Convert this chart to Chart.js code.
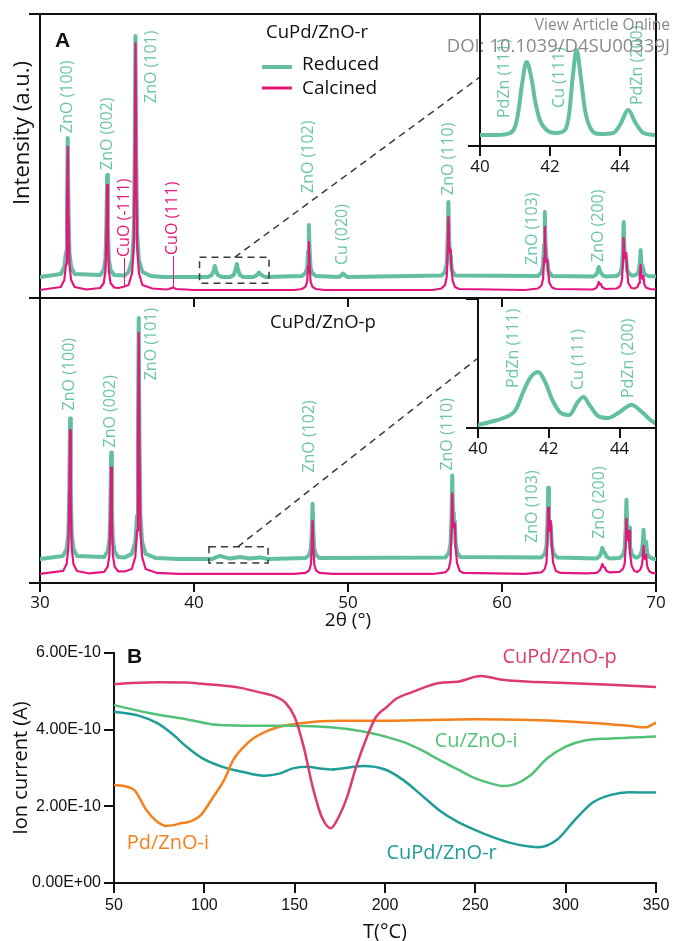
<!DOCTYPE html>
<html>
<head>
<meta charset="utf-8">
<title>CuPd/ZnO XRD and H2-TPR</title>
<script src="https://cdn.jsdelivr.net/npm/chart.js@4.4.1/dist/chart.umd.min.js"></script>
<style>
  html, body { margin: 0; padding: 0; background: #fff; overflow: hidden; }
  #fig { position: relative; width: 673px; height: 941px; overflow: hidden; }
  #fig canvas { position: absolute; }
  .wm { position: absolute; right: 3px; color: #8a8a8a; font-family: "Open Sans", sans-serif; white-space: nowrap; line-height: 1; }
</style>
</head>
<body>
<div id="fig">
  <canvas id="xrdTop" width="673" height="312" style="left:0;top:0"></canvas>
  <canvas id="xrdBottom" width="673" height="350" style="left:0;top:290px"></canvas>
  <canvas id="tpr" width="673" height="319" style="left:0;top:625px"></canvas>
  <canvas id="insetTop" width="233" height="190" style="left:440px;top:0"></canvas>
  <canvas id="insetBottom" width="235" height="190" style="left:438px;top:290px"></canvas>
  <div class="wm" style="top:17px;font-size:15.5px">View Article Online</div>
  <div class="wm" style="top:36px;font-size:18.5px">DOI: 10.1039/D4SU00339J</div>
</div>
<script>
// ---- panel A : XRD, 2theta (deg) vs intensity (a.u.) ----
const xrdTicks = [30, 40, 50, 60, 70];
const insetTicks = [40, 42, 44];

// CuPd/ZnO-r
const topReduced = [
  [30, 21],
  [31.35, 24], [31.58, 31], [31.69, 46], [31.75, 90], [31.8, 160], [31.85, 90], [31.91, 46], [32.02, 31], [32.25, 24],
  [33.91, 23], [34.14, 28], [34.25, 39], [34.31, 72], [34.36, 123], [34.41, 72], [34.47, 39], [34.58, 28], [34.81, 23],
  [35.5, 22.5],
  [35.75, 26], [35.98, 38], [36.09, 64], [36.15, 141], [36.2, 262], [36.25, 141], [36.31, 64], [36.42, 38], [36.65, 26],
  [37.2, 22], [38, 21],
  [40.9, 21], [41.15, 23], [41.27, 27], [41.35, 32], [41.43, 27], [41.55, 23], [41.8, 21],
  [42.35, 21], [42.58, 23], [42.7, 28], [42.78, 34], [42.86, 28], [42.98, 23], [43.2, 21],
  [43.85, 21], [44.05, 22.5], [44.15, 24], [44.22, 25.5], [44.3, 24], [44.42, 22.5], [44.65, 21],
  [47.01, 22], [47.24, 25], [47.35, 30], [47.41, 47], [47.46, 73], [47.51, 47], [47.57, 30], [47.68, 25], [47.91, 22],
  [49.4, 21], [49.55, 22.5], [49.68, 24.5], [49.81, 22.5], [49.96, 21],
  [56.07, 22.5], [56.3, 26], [56.41, 34.5], [56.47, 58], [56.52, 96], [56.57, 58], [56.63, 42], [56.68, 38], [56.74, 28], [56.97, 22.5],
  [62.33, 22], [62.56, 25.5], [62.67, 33], [62.73, 53], [62.78, 86], [62.83, 53], [62.89, 40], [62.95, 36], [63.01, 27], [63.25, 22],
  [65.9, 21.5], [66.1, 23], [66.2, 26], [66.28, 31], [66.36, 27], [66.44, 25], [66.55, 22.5], [66.75, 21.5],
  [67.45, 22], [67.68, 25], [67.79, 31], [67.85, 48], [67.9, 76], [67.95, 48], [68.01, 42], [68.07, 38], [68.13, 27], [68.4, 22.5],
  [68.6, 22.5], [68.8, 24], [68.89, 28], [68.95, 35], [69.0, 48], [69.05, 35], [69.11, 32], [69.17, 29], [69.25, 24], [69.5, 22], [70, 21.5]
];
const topCalcined = [
  [30, 8],
  [31.35, 11], [31.58, 18], [31.69, 34], [31.75, 80], [31.8, 151], [31.85, 80], [31.91, 34], [32.02, 18], [32.25, 11],
  [33, 8.5],
  [33.91, 10], [34.14, 15], [34.25, 27], [34.31, 60], [34.36, 113], [34.41, 60], [34.47, 27], [34.58, 15], [34.81, 10.5],
  [35.1, 10], [35.48, 11.5], [35.75, 13],
  [35.98, 25], [36.09, 52], [36.15, 131], [36.2, 255], [36.25, 131], [36.31, 52], [36.42, 25], [36.65, 13],
  [37.3, 9.5], [38.2, 8.5], [38.4, 9], [38.62, 10.5], [38.85, 9], [40, 8], [46.5, 8],
  [47.01, 9], [47.24, 11.4], [47.35, 16.6], [47.41, 32], [47.46, 56], [47.51, 32], [47.57, 16.6], [47.68, 11.4], [47.91, 9],
  [48.5, 8], [55.5, 8],
  [56.07, 9.5], [56.3, 13], [56.41, 21], [56.47, 44.5], [56.52, 81], [56.57, 50], [56.62, 46], [56.67, 48], [56.72, 30], [56.8, 17], [56.95, 11], [57.2, 9],
  [61.5, 8],
  [62.33, 9.5], [62.56, 12.5], [62.67, 19], [62.73, 40], [62.78, 71], [62.83, 42], [62.88, 36], [62.95, 38], [63.0, 25], [63.08, 15], [63.25, 10.5], [63.5, 9],
  [65.9, 8.5], [66.12, 10], [66.22, 13], [66.28, 16], [66.34, 13.5], [66.42, 14], [66.5, 11], [66.7, 9],
  [67.45, 9.5], [67.68, 12], [67.79, 18], [67.85, 34], [67.9, 60], [67.95, 42], [68.0, 40], [68.07, 45], [68.12, 28], [68.2, 15], [68.4, 10],
  [68.6, 9.5], [68.8, 11], [68.9, 15], [68.95, 22], [69.0, 33], [69.05, 22], [69.12, 19], [69.18, 22], [69.24, 14], [69.35, 10.5], [69.6, 9], [70, 8.5]
];

// CuPd/ZnO-p
const bottomReduced = [
  [30, 24],
  [31.5, 27], [31.73, 34], [31.84, 49], [31.9, 94], [31.95, 164], [32.0, 94], [32.06, 49], [32.17, 34], [32.4, 27],
  [34.17, 26], [34.4, 31.5], [34.51, 43], [34.57, 77], [34.62, 130], [34.67, 77], [34.73, 43], [34.84, 31.5], [35.07, 26],
  [35.5, 25.5],
  [35.96, 29], [36.19, 41], [36.3, 67], [36.36, 144], [36.41, 264], [36.46, 144], [36.52, 67], [36.63, 41], [36.86, 29],
  [37.5, 25], [39, 24],
  [41.2, 24], [41.5, 26], [41.7, 27], [41.9, 26], [42.3, 24.5], [43.0, 26], [43.6, 24.5], [44.3, 25.5], [44.8, 24],
  [47.25, 25], [47.48, 28], [47.59, 34], [47.65, 51.5], [47.7, 79], [47.75, 51.5], [47.81, 34], [47.92, 28], [48.15, 25],
  [56.32, 25.5], [56.55, 30], [56.66, 39], [56.72, 65.5], [56.77, 107], [56.82, 70], [56.87, 60], [56.93, 62], [56.99, 40], [57.1, 30], [57.3, 26],
  [62.55, 25.5], [62.78, 29], [62.89, 37], [62.95, 59.5], [63.0, 95], [63.05, 62], [63.1, 55], [63.17, 58], [63.23, 38], [63.35, 29], [63.6, 25.5],
  [66.15, 24.5], [66.35, 27], [66.45, 31], [66.52, 35], [66.6, 31], [66.68, 30], [66.78, 26.5], [67.0, 24.5],
  [67.63, 25], [67.86, 28], [67.97, 35], [68.03, 54], [68.08, 83], [68.13, 56], [68.18, 50], [68.25, 55], [68.31, 36], [68.45, 28], [68.65, 25.5],
  [68.8, 25.5], [68.99, 28], [69.09, 33], [69.14, 40], [69.19, 53], [69.24, 40], [69.3, 37], [69.36, 41], [69.42, 30], [69.55, 26], [69.75, 24.5], [70, 24]
];
const bottomCalcined = [
  [30, 9],
  [31.5, 12], [31.73, 19], [31.84, 35], [31.9, 80.5], [31.95, 152], [32.0, 80.5], [32.06, 35], [32.17, 19], [32.4, 12],
  [33.2, 9.5],
  [34.17, 11], [34.4, 16.5], [34.51, 28], [34.57, 62], [34.62, 115], [34.67, 62], [34.73, 28], [34.84, 16.5], [35.07, 11.5],
  [35.5, 11.5],
  [35.96, 14], [36.19, 26], [36.3, 52], [36.36, 129], [36.41, 249], [36.46, 129], [36.52, 52], [36.63, 26], [36.86, 14],
  [37.6, 10], [39, 9], [46.5, 9],
  [47.25, 10], [47.48, 12.7], [47.59, 18.5], [47.65, 35.5], [47.7, 62], [47.75, 35.5], [47.81, 18.5], [47.92, 12.7], [48.15, 10],
  [49, 9], [55.5, 9],
  [56.32, 10.5], [56.55, 14.5], [56.66, 23], [56.72, 49], [56.77, 89], [56.82, 60], [56.87, 55], [56.94, 59], [56.99, 35], [57.08, 20], [57.25, 12], [57.5, 10],
  [61.5, 9],
  [62.55, 10.5], [62.78, 14], [62.89, 21], [62.95, 42], [63.0, 75], [63.05, 55], [63.1, 52], [63.17, 62], [63.23, 38], [63.32, 20], [63.5, 12], [63.8, 10],
  [65.5, 9.5],
  [66.15, 10], [66.35, 12.5], [66.45, 16], [66.52, 19], [66.6, 16], [66.68, 15.5], [66.78, 12], [67.0, 10.5],
  [67.63, 11], [67.86, 14], [67.97, 20], [68.03, 37], [68.08, 64], [68.13, 45], [68.18, 43], [68.25, 52], [68.31, 30], [68.42, 17], [68.6, 12],
  [68.8, 11], [68.99, 13.5], [69.09, 18], [69.14, 25], [69.19, 37], [69.24, 26], [69.3, 24], [69.36, 28], [69.42, 17], [69.55, 12], [69.75, 10], [70, 9.5]
];

// zoomed 40-45 deg region (reduced samples)
const insetTopReduced = [
  [40, 11], [40.48, 11], [40.86, 13], [41.0, 19], [41.09, 33], [41.19, 59], [41.33, 84], [41.48, 66], [41.57, 46],
  [41.71, 26], [41.9, 16], [42.19, 13], [42.43, 16], [42.55, 33], [42.65, 69], [42.76, 96], [42.88, 69], [43.0, 36],
  [43.14, 19], [43.43, 12], [43.81, 13], [44.0, 21], [44.24, 36], [44.43, 24], [44.67, 13], [45, 11]
];
const insetBottomReduced = [
  [40, 3], [40.34, 6], [40.72, 10], [41.06, 18], [41.3, 38], [41.49, 51], [41.7, 56], [41.91, 45], [42.1, 28],
  [42.34, 15], [42.58, 13], [42.82, 26], [42.98, 31], [43.15, 23], [43.39, 12], [43.68, 10], [43.96, 15],
  [44.34, 23], [44.63, 16], [44.87, 8], [45, 5]
];

// peak labels: text, 2theta, intensity where the label starts, colour key
const topPeakLabels = [
  ['ZnO (100)', 31.8, 165, 'g'], ['ZnO (002)', 34.36, 128, 'g'], ['CuO (-111)', 35.48, 41, 'p'],
  ['ZnO (101)', 37.25, 195, 'g'], ['CuO (111)', 38.62, 43, 'p'], ['ZnO (102)', 47.46, 105, 'g'],
  ['Cu (020)', 49.67, 33, 'g'], ['ZnO (110)', 56.5, 103, 'g'], ['ZnO (103)', 61.97, 33, 'g'],
  ['ZnO (200)', 66.26, 36, 'g']
];
const bottomPeakLabels = [
  ['ZnO (100)', 31.9, 172, 'g'], ['ZnO (002)', 34.57, 135, 'g'], ['ZnO (101)', 37.24, 202, 'g'],
  ['ZnO (102)', 47.52, 110, 'g'], ['ZnO (110)', 56.43, 112, 'g'], ['ZnO (103)', 61.97, 40, 'g'],
  ['ZnO (200)', 66.32, 44, 'g']
];
const insetTopLabels = [['PdZn (111)', 40.71, 28, 'g'], ['Cu (111)', 42.26, 38, 'g'], ['PdZn (200)', 44.49, 41, 'g']];
const insetBottomLabels = [['PdZn (111)', 41.0, 40, 'g'], ['Cu (111)', 42.83, 38, 'g'], ['PdZn (200)', 44.26, 30, 'g']];

// ---- panel B : ion current (x1e-10 A) vs T (degC) ----
const tprTicksX = [50, 100, 150, 200, 250, 300, 350];
const tprTicksY = [0, 2, 4, 6];
const pTemp = [50, 60, 75, 90, 100, 110, 120, 130, 140, 145, 150, 155, 160, 165, 170, 173, 179, 184, 190, 195, 201, 206, 215, 230, 240, 253, 265, 280, 300, 325, 350];
const pCurrent = [5.19, 5.22, 5.24, 5.23, 5.19, 5.15, 5.09, 4.98, 4.85, 4.7, 4.33, 3.55, 2.5, 1.72, 1.43, 1.6, 2.24, 3.03, 3.81, 4.33, 4.59, 4.8, 4.98, 5.22, 5.25, 5.4, 5.3, 5.25, 5.22, 5.17, 5.11];
const rTemp = [50, 64, 74, 83, 90, 99, 110, 121, 133, 142, 149, 157, 164, 170, 188, 200, 210, 220, 230, 240, 250, 260, 270, 280, 285, 295, 305, 315, 325, 335, 350];
const rCurrent = [4.47, 4.36, 4.17, 3.86, 3.56, 3.25, 3.03, 2.9, 2.8, 2.86, 2.99, 3.03, 2.99, 2.96, 3.05, 2.96, 2.69, 2.3, 1.9, 1.6, 1.38, 1.19, 1.04, 0.95, 0.93, 1.12, 1.64, 2.1, 2.3, 2.37, 2.36];
const cuTemp = [50, 70, 90, 108, 130, 150, 170, 188, 200, 210, 220, 230, 240, 250, 260, 265, 272, 280, 290, 300, 310, 325, 350];
const cuCurrent = [4.64, 4.43, 4.27, 4.12, 4.1, 4.1, 4.06, 3.95, 3.82, 3.68, 3.47, 3.21, 2.97, 2.73, 2.58, 2.53, 2.58, 2.79, 3.26, 3.56, 3.71, 3.77, 3.82];
const pdTemp = [50, 61, 68, 74, 79, 83, 87, 92, 98, 105, 111, 116, 122, 127, 134, 144, 153, 175, 200, 250, 280, 317, 335, 344, 350];
const pdCurrent = [2.56, 2.43, 1.9, 1.6, 1.49, 1.51, 1.56, 1.6, 1.77, 2.25, 2.69, 3.21, 3.56, 3.77, 3.95, 4.1, 4.17, 4.23, 4.23, 4.27, 4.25, 4.17, 4.1, 4.06, 4.18];

const INK = '#111';
const GREEN = '#62bf9f';
const GREEN_TEXT = '#6cc5a7';
const PINK = '#e3177d';
const TPR_COLORS = { p: '#dc3b6b', r: '#1f9d97', cu: '#53c278', pd: '#f2811e' };
const SANS = '"Open Sans", sans-serif';
const ARIAL = '"Liberation Sans", Arial, sans-serif';

Chart.defaults.font.family = SANS;
Chart.defaults.color = INK;

function pairs(xs, ys) { return xs.map((x, i) => [x, ys[i]]); }
function fixedTicks(list) { return s => { s.ticks = list.map(v => ({ value: v })); }; }

function axisStyle(tickLength) {
  return {
    grid: { drawOnChartArea: false, drawTicks: tickLength > 0, tickLength: tickLength, color: INK, lineWidth: 2 },
    border: { color: INK, width: 2 }
  };
}

function baseOptions(padding) {
  return {
    responsive: false,
    animation: false,
    events: [],
    layout: { padding: padding },
    plugins: { legend: { display: false }, tooltip: { enabled: false } },
    elements: { point: { radius: 0 }, line: { tension: 0, borderJoinStyle: 'round', borderCapStyle: 'round' } }
  };
}

function drawVertical(ctx, text, x, y, font, color) {
  ctx.save();
  ctx.translate(x, y);
  ctx.rotate(-Math.PI / 2);
  ctx.font = font;
  ctx.fillStyle = color;
  ctx.textAlign = 'left';
  ctx.textBaseline = 'middle';
  ctx.fillText(text, 0, 0);
  ctx.restore();
}

function drawText(ctx, text, x, y, font, color, align) {
  ctx.save();
  ctx.font = font;
  ctx.fillStyle = color;
  ctx.textAlign = align || 'left';
  ctx.textBaseline = 'middle';
  ctx.fillText(text, x, y);
  ctx.restore();
}

// peak labels, leader lines, zoom box and the dashed line to the inset
function xrdDecor(cfg) {
  return {
    id: 'xrdDecor',
    afterDatasetsDraw(chart) {
      const ctx = chart.ctx;
      const x = chart.scales.x, y = chart.scales.y;
      cfg.labels.forEach(([text, pos, val, c]) => {
        drawVertical(ctx, text, x.getPixelForValue(pos), y.getPixelForValue(val),
          cfg.labelFont || ('16px ' + SANS), c === 'p' ? PINK : GREEN_TEXT);
      });
      ctx.save();
      ctx.strokeStyle = PINK;
      ctx.lineWidth = 1;
      (cfg.leaders || []).forEach(([pos, from, to]) => {
        const px = Math.round(x.getPixelForValue(pos)) + 0.5;
        ctx.beginPath();
        ctx.moveTo(px, y.getPixelForValue(from));
        ctx.lineTo(px, y.getPixelForValue(to));
        ctx.stroke();
      });
      ctx.restore();
      if (cfg.box) {
        const [x0, x1, v0, v1, xFrom] = cfg.box;
        ctx.save();
        ctx.strokeStyle = '#3a3a3a';
        ctx.lineWidth = 1.5;
        ctx.setLineDash([7, 5]);
        const l = x.getPixelForValue(x0), r = x.getPixelForValue(x1);
        const t = y.getPixelForValue(v1), b = y.getPixelForValue(v0);
        ctx.strokeRect(l, t, r - l, b - t);
        const inset = cfg.inset;
        const tx = inset.canvas.offsetLeft + inset.chartArea.left - chart.canvas.offsetLeft;
        const ty = inset.canvas.offsetTop + inset.scales.y.getPixelForValue(cfg.insetValue) - chart.canvas.offsetTop;
        ctx.beginPath();
        ctx.moveTo(x.getPixelForValue(xFrom), t);
        ctx.lineTo(tx, ty);
        ctx.stroke();
        ctx.restore();
      }
      if (cfg.extra) cfg.extra(ctx, chart);
    }
  };
}

function xrdOptions(padTop, xHeight, showLabels, topFrame) {
  const o = baseOptions({ top: padTop, right: 17, left: 0, bottom: 0 });
  o.scales = {
    x: Object.assign({
      type: 'linear', min: 30, max: 70,
      afterFit: s => { s.height = xHeight; },
      afterBuildTicks: fixedTicks(xrdTicks),
      ticks: { display: showLabels, maxRotation: 0, padding: 1, color: INK, font: { size: 17, family: SANS } },
      title: { display: showLabels, text: '2\u03b8 (\u00b0)', color: INK, font: { size: 19, family: SANS }, padding: { top: 0, bottom: 8 } }
    }, axisStyle(9)),
    y: Object.assign({
      min: 0, max: 284,
      afterFit: s => { s.width = 40; },
      afterBuildTicks: fixedTicks([0, 284]),
      ticks: { display: false }
    }, axisStyle(11)),
    yFrame: {
      type: 'linear', position: 'right', display: true, min: 0, max: 284,
      afterFit: s => { s.width = 0; },
      grid: { display: false }, ticks: { display: false }, border: { color: INK, width: 2 }
    }
  };
  if (topFrame) {
    o.scales.xFrame = {
      type: 'linear', position: 'top', display: true, min: 30, max: 70,
      afterFit: s => { s.height = 0; },
      grid: { display: false }, ticks: { display: false }, border: { color: INK, width: 2 }
    };
  }
  return o;
}

function insetOptions(padTop, xHeight, yMax) {
  const o = baseOptions({ top: padTop, right: 18, left: 0, bottom: 0 });
  o.elements.line.tension = 0.4;
  o.elements.line.cubicInterpolationMode = 'monotone';
  o.scales = {
    x: Object.assign({
      type: 'linear', min: 40, max: 45,
      afterFit: s => { s.height = xHeight; },
      afterBuildTicks: fixedTicks(insetTicks),
      ticks: { maxRotation: 0, padding: 1, color: INK, font: { size: 17, family: SANS } }
    }, axisStyle(10)),
    y: Object.assign({
      min: 0, max: yMax,
      afterFit: s => { s.width = 40; },
      afterBuildTicks: fixedTicks([0, yMax]),
      ticks: { display: false }
    }, axisStyle(12))
  };
  return o;
}

function insetChart(id, data, labels, padTop, xHeight, yMax) {
  return new Chart(document.getElementById(id), {
    type: 'line',
    data: { datasets: [{ label: 'Reduced', data: data, borderColor: GREEN, borderWidth: 4 }] },
    options: insetOptions(padTop, xHeight, yMax),
    plugins: [xrdDecor({ labels: labels })]
  });
}

const insetTop = insetChart('insetTop', insetTopReduced, insetTopLabels, 14, 44, 132);
const insetBottom = insetChart('insetBottom', insetBottomReduced, insetBottomLabels, 9, 52, 129);

new Chart(document.getElementById('xrdTop'), {
  type: 'line',
  data: {
    datasets: [
      { label: 'Calcined', data: topCalcined, borderColor: PINK, borderWidth: 2.2 },
      { label: 'Reduced', data: topReduced, borderColor: GREEN, borderWidth: 4 }
    ]
  },
  options: xrdOptions(14, 14, false, true),
  plugins: [xrdDecor({
    labels: topPeakLabels,
    leaders: [[35.48, 40, 12], [38.62, 42, 11]],
    box: [40.36, 44.87, 14.7, 40.7, 42.64],
    inset: insetTop, insetValue: 69,
    extra(ctx) {
      drawText(ctx, 'A', 55, 41, 'bold 21px ' + ARIAL, INK);
      drawText(ctx, 'CuPd/ZnO-r', 266, 33, '18.5px ' + SANS, INK);
      ctx.save();
      ctx.lineWidth = 4; ctx.strokeStyle = GREEN;
      ctx.beginPath(); ctx.moveTo(262, 67); ctx.lineTo(292, 67); ctx.stroke();
      ctx.lineWidth = 3; ctx.strokeStyle = PINK;
      ctx.beginPath(); ctx.moveTo(262, 88); ctx.lineTo(292, 88); ctx.stroke();
      ctx.restore();
      drawText(ctx, 'Reduced', 302, 65, '19px ' + SANS, INK);
      drawText(ctx, 'Calcined', 302, 89, '19px ' + SANS, INK);
      ctx.save();
      ctx.translate(23, 133);
      ctx.rotate(-Math.PI / 2);
      drawText(ctx, 'Intensity (a.u.)', 0, 0, '22px ' + SANS, INK, 'center');
      ctx.restore();
    }
  })]
});

new Chart(document.getElementById('xrdBottom'), {
  type: 'line',
  data: {
    datasets: [
      { label: 'Calcined', data: bottomCalcined, borderColor: PINK, borderWidth: 2.2 },
      { label: 'Reduced', data: bottomReduced, borderColor: GREEN, borderWidth: 4 }
    ]
  },
  options: xrdOptions(8, 57, true, false),
  plugins: [xrdDecor({
    labels: bottomPeakLabels,
    box: [40.97, 44.81, 20, 36, 42.84],
    inset: insetBottom, insetValue: 70,
    extra(ctx) {
      drawText(ctx, 'CuPd/ZnO-p', 270, 33, '18.5px ' + SANS, INK);
    }
  })]
});

// ---- panel B ----
const tprLabels = [
  ['CuPd/ZnO-p', 265, 5.9, TPR_COLORS.p],
  ['Cu/ZnO-i', 227.5, 3.69, TPR_COLORS.cu],
  ['CuPd/ZnO-r', 200.8, 0.78, TPR_COLORS.r],
  ['Pd/ZnO-i', 57, 1.04, TPR_COLORS.pd]
];

function sci(v) {
  return v === 0 ? '0.00E+00' : v.toFixed(2) + 'E-10';
}

const tprOpts = baseOptions({ top: 28, right: 17, left: 0, bottom: 0 });
tprOpts.elements.line.tension = 0.4;
tprOpts.elements.line.cubicInterpolationMode = 'monotone';
tprOpts.scales = {
  x: Object.assign({
    type: 'linear', min: 50, max: 350,
    afterFit: s => { s.height = 61; },
    afterBuildTicks: fixedTicks(tprTicksX),
    ticks: { maxRotation: 0, padding: 3, color: INK, font: { size: 16, family: ARIAL } },
    title: { display: true, text: 'T(\u00b0C)', color: INK, font: { size: 20, family: SANS }, padding: { top: 0, bottom: 0 } }
  }, axisStyle(10)),
  y: Object.assign({
    min: 0, max: 6,
    afterFit: s => { s.width = 114; },
    afterBuildTicks: fixedTicks(tprTicksY),
    ticks: { padding: 3, color: INK, font: { size: 16, family: ARIAL }, callback: v => sci(v) },
    title: { display: true, text: 'Ion current (A)', color: INK, font: { size: 20, family: SANS }, padding: { top: 9, bottom: 0 } }
  }, axisStyle(10))
};

new Chart(document.getElementById('tpr'), {
  type: 'line',
  data: {
    datasets: [
      { label: 'CuPd/ZnO-p', data: pairs(pTemp, pCurrent), borderColor: TPR_COLORS.p, borderWidth: 2.5 },
      { label: 'Cu/ZnO-i', data: pairs(cuTemp, cuCurrent), borderColor: TPR_COLORS.cu, borderWidth: 2.5 },
      { label: 'Pd/ZnO-i', data: pairs(pdTemp, pdCurrent), borderColor: TPR_COLORS.pd, borderWidth: 2.5 },
      { label: 'CuPd/ZnO-r', data: pairs(rTemp, rCurrent), borderColor: TPR_COLORS.r, borderWidth: 2.5 }
    ]
  },
  options: tprOpts,
  plugins: [{
    id: 'tprLabels',
    afterDatasetsDraw(chart) {
      const { ctx, scales: { x, y } } = chart;
      tprLabels.forEach(([text, t, v, color]) => {
        drawText(ctx, text, x.getPixelForValue(t), y.getPixelForValue(v), '20px ' + SANS, color);
      });
      drawText(ctx, 'B', chart.chartArea.left + 13, chart.chartArea.top + 4, 'bold 21px ' + ARIAL, INK);
    }
  }]
});
</script>
</body>
</html>
